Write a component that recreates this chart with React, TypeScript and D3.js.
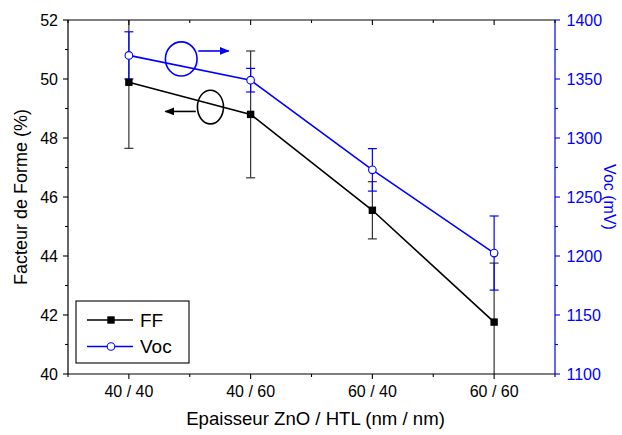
import React from "react";
import * as d3 from "d3";

const categories = ["40 / 40", "40 / 60", "60 / 40", "60 / 60"];
const ffValues = [49.89, 48.8, 45.55, 41.76];
const ffErrors = [2.24, 2.15, 0.97, 2.0];
const vocValues = [1370, 1349, 1273, 1202.5];
const vocErrors = [20, 10, 18, 31.4];
const leftTicks = [40, 42, 44, 46, 48, 50, 52];
const rightTicks = [1100, 1150, 1200, 1250, 1300, 1350, 1400];

// annotation ellipses/arrows in data space (x = category index, y = left axis units)
const annotations = [
  { color: "#0000ff", cx: 1.43, cy: 50.68, rx: 0.13, ry: 0.58, ax0: 1.57, ax1: 1.82, ay: 50.95 },
  { color: "#000000", cx: 1.67, cy: 49.05, rx: 0.107, ry: 0.57, ax0: 1.55, ax1: 1.3, ay: 48.9 },
];

const W = 622;
const H = 435;
const M = { left: 68, right: 555, top: 20, bottom: 374 };
const FONT = "Arial, 'Liberation Sans', sans-serif";
const BLUE = "#0000ff";

export default function App() {
  const x = d3.scaleLinear().domain([0.5, 4.5]).range([M.left, M.right]);
  const yL = d3.scaleLinear().domain([40, 52]).range([M.bottom, M.top]);
  const yR = d3.scaleLinear().domain([1100, 1400]).range([M.bottom, M.top]);
  const idx = categories.map((_, i) => i + 1);

  const ffLine = d3.line<number>().x((_, i) => x(idx[i])).y((d) => yL(d))(ffValues) || "";
  const vocLine = d3.line<number>().x((_, i) => x(idx[i])).y((d) => yR(d))(vocValues) || "";

  const xMinor = d3.range(0.5, 4.51, 0.5);
  const leftMinor = d3.range(40, 52.01, 1);
  const rightMinor = d3.range(1100, 1400.1, 25);

  return (
    <svg width={W} height={H} style={{ position: "absolute", left: 0, top: 0, fontFamily: FONT }}>
      <defs>
        <clipPath id="plot">
          <rect x={M.left} y={M.top} width={M.right - M.left} height={M.bottom - M.top} />
        </clipPath>
        <marker id="ahB" markerWidth="10" markerHeight="8" refX="9" refY="4" orient="auto" markerUnits="userSpaceOnUse">
          <path d="M0,0 L10,4 L0,8 Z" fill={BLUE} />
        </marker>
        <marker id="ahK" markerWidth="10" markerHeight="8" refX="9" refY="4" orient="auto" markerUnits="userSpaceOnUse">
          <path d="M0,0 L10,4 L0,8 Z" fill="#000" />
        </marker>
      </defs>
      <rect width={W} height={H} fill="#fff" />

      {/* error bars */}
      <g clipPath="url(#plot)">
        {ffValues.map((v, i) => {
          const cx = x(idx[i]);
          const t = yL(v + ffErrors[i]);
          const b = yL(v - ffErrors[i]);
          return (
            <g key={"fe" + i} stroke="#333" strokeWidth={1.2}>
              <line x1={cx} x2={cx} y1={t} y2={b} />
              <line x1={cx - 4.5} x2={cx + 4.5} y1={t} y2={t} />
              <line x1={cx - 4.5} x2={cx + 4.5} y1={b} y2={b} />
            </g>
          );
        })}
        {vocValues.map((v, i) => {
          const cx = x(idx[i]);
          const t = yR(v + vocErrors[i]);
          const b = yR(v - vocErrors[i]);
          return (
            <g key={"ve" + i} stroke={BLUE} strokeWidth={1.2}>
              <line x1={cx} x2={cx} y1={t} y2={b} />
              <line x1={cx - 4.5} x2={cx + 4.5} y1={t} y2={t} />
              <line x1={cx - 4.5} x2={cx + 4.5} y1={b} y2={b} />
            </g>
          );
        })}
      </g>

      {/* lines */}
      <path d={ffLine} fill="none" stroke="#000" strokeWidth={1.6} />
      <path d={vocLine} fill="none" stroke={BLUE} strokeWidth={1.6} />
      {ffValues.map((v, i) => (
        <rect key={"fm" + i} x={x(idx[i]) - 3.7} y={yL(v) - 3.7} width={7.4} height={7.4} fill="#000" />
      ))}
      {vocValues.map((v, i) => (
        <circle key={"vm" + i} cx={x(idx[i])} cy={yR(v)} r={3.8} fill="#fff" stroke={BLUE} strokeWidth={1.1} />
      ))}

      {/* annotations */}
      {annotations.map((a, i) => (
        <g key={"an" + i} stroke={a.color} strokeWidth={1.6} fill="none">
          <ellipse cx={x(a.cx)} cy={yL(a.cy)} rx={x(a.cx + a.rx) - x(a.cx)} ry={yL(a.cy - a.ry) - yL(a.cy)} />
          <line x1={x(a.ax0)} x2={x(a.ax1)} y1={yL(a.ay)} y2={yL(a.ay)} markerEnd={i === 0 ? "url(#ahB)" : "url(#ahK)"} />
        </g>
      ))}

      {/* frame */}
      <line x1={M.left} x2={M.right} y1={M.top} y2={M.top} stroke="#000" strokeWidth={1.2} />
      <line x1={M.left} x2={M.right} y1={M.bottom} y2={M.bottom} stroke="#000" strokeWidth={1.2} />
      <line x1={M.left} x2={M.left} y1={M.top} y2={M.bottom} stroke="#000" strokeWidth={1.2} />
      <line x1={M.right} x2={M.right} y1={M.top} y2={M.bottom} stroke={BLUE} strokeWidth={1.2} />

      {/* x ticks bottom (out) and top (in) */}
      {xMinor.map((t, i) => {
        const major = Number.isInteger(t);
        const len = major ? 5 : 3;
        return (
          <g key={"xt" + i} stroke="#000" strokeWidth={1.1}>
            <line x1={x(t)} x2={x(t)} y1={M.bottom} y2={M.bottom + len} />
            <line x1={x(t)} x2={x(t)} y1={M.top} y2={M.top + len} />
          </g>
        );
      })}
      {categories.map((c, i) => (
        <text key={"xl" + i} x={x(idx[i])} y={397} textAnchor="middle" fontSize={16} fill="#000">
          {c}
        </text>
      ))}

      {/* left ticks */}
      {leftMinor.map((t, i) => {
        const major = t % 2 === 0;
        return (
          <line key={"lt" + i} x1={M.left} x2={M.left - (major ? 5 : 3)} y1={yL(t)} y2={yL(t)} stroke="#000" strokeWidth={1.1} />
        );
      })}
      {leftTicks.map((t, i) => (
        <text key={"ll" + i} x={M.left - 10} y={yL(t)} dy="0.36em" textAnchor="end" fontSize={16} fill="#000">
          {t}
        </text>
      ))}

      {/* right ticks */}
      {rightMinor.map((t, i) => {
        const major = t % 50 === 0;
        return (
          <line key={"rt" + i} x1={M.right} x2={M.right + (major ? 5 : 3)} y1={yR(t)} y2={yR(t)} stroke={BLUE} strokeWidth={1.1} />
        );
      })}
      {rightTicks.map((t, i) => (
        <text key={"rl" + i} x={M.right + 11.5} y={yR(t)} dy="0.36em" textAnchor="start" fontSize={16} fill={BLUE}>
          {t}
        </text>
      ))}

      {/* axis titles */}
      <text x={315.5} y={425} textAnchor="middle" fontSize={18.6} fill="#000">
        Epaisseur ZnO / HTL (nm / nm)
      </text>
      <text transform={`translate(21,${(M.top + M.bottom) / 2}) rotate(-90)`} textAnchor="middle" dy="0.35em" fontSize={18} fill="#000">
        Facteur de Forme (%)
      </text>
      <text transform={`translate(609.5,${(M.top + M.bottom) / 2}) rotate(90)`} textAnchor="middle" dy="0.35em" fontSize={16} fill={BLUE}>
        Voc (mV)
      </text>

      {/* legend */}
      <rect x={76} y={301} width={113} height={62} fill="#fff" stroke="#000" strokeWidth={1.1} />
      <line x1={87} x2={133} y1={320} y2={320} stroke="#000" strokeWidth={1.6} />
      <rect x={111 - 3.7} y={320 - 3.7} width={7.4} height={7.4} fill="#000" />
      <text x={140} y={320} dy="0.36em" fontSize={19} fill="#000">FF</text>
      <line x1={87} x2={133} y1={346.5} y2={346.5} stroke={BLUE} strokeWidth={1.6} />
      <circle cx={111} cy={346.5} r={3.8} fill="#fff" stroke={BLUE} strokeWidth={1.1} />
      <text x={140} y={346.5} dy="0.36em" fontSize={19} fill="#000">Voc</text>
    </svg>
  );
}
